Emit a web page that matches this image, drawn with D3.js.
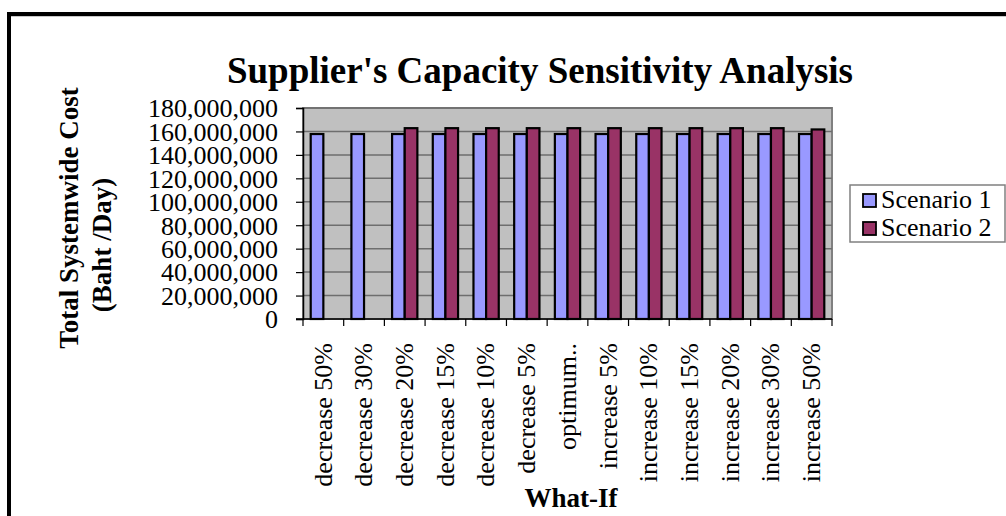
<!DOCTYPE html>
<html>
<head>
<meta charset="utf-8">
<script src="https://cdn.jsdelivr.net/npm/d3@7"></script>
<style>
  html, body { margin: 0; padding: 0; background: #ffffff; }
  svg { display: block; font-family: "Liberation Serif", "Times New Roman", serif; }
</style>
</head>
<body>
<svg id="chart" width="1006" height="516"></svg>
<script>
// What-if scenarios for supplier capacity
const categories = [
  "decrease 50%", "decrease 30%", "decrease 20%", "decrease 15%", "decrease 10%",
  "decrease 5%", "optimum..", "increase 5%", "increase 10%", "increase 15%",
  "increase 20%", "increase 30%", "increase 50%"
];
const seriesNames = ["Scenario 1", "Scenario 2"];
// Total systemwide cost (Baht/Day); null = no feasible solution
const scenario1 = [
  157800000, 157800000, 157800000, 157800000, 157800000, 157800000, 157800000,
  157800000, 157800000, 157800000, 157800000, 157800000, 157800000
];
const scenario2 = [
  null, null, 162800000, 162800000, 162800000, 162800000, 162800000,
  162800000, 162800000, 162800000, 162800000, 162800000, 161700000
];
const yTicks = [0, 20000000, 40000000, 60000000, 80000000, 100000000,
  120000000, 140000000, 160000000, 180000000];
const seriesColors = ["#9999ff", "#993366"];

const svg = d3.select("#chart");

// Outer frame (left and top edges visible)
svg.append("line").attr("x1", 9).attr("y1", 12).attr("x2", 9).attr("y2", 516)
  .attr("stroke", "#000").attr("stroke-width", 4);
svg.append("line").attr("x1", 7).attr("y1", 14).attr("x2", 1006).attr("y2", 14)
  .attr("stroke", "#000").attr("stroke-width", 4);
svg.append("line").attr("x1", 11).attr("y1", 16.5).attr("x2", 1006).attr("y2", 16.5)
  .attr("stroke", "#c8c8c8").attr("stroke-width", 1);

const plot = { left: 303, right: 832, top: 108, bottom: 319 };

const x0 = d3.scaleBand().domain(categories).range([plot.left, plot.right])
  .paddingInner(0).paddingOuter(0);
const x1 = d3.scaleBand().domain(seriesNames).range([0, x0.bandwidth()])
  .paddingInner(0).paddingOuter(0.61);
const y = d3.scaleLinear().domain([0, 180000000]).range([plot.bottom, plot.top]);

// Plot area background
svg.append("rect")
  .attr("x", plot.left).attr("y", plot.top)
  .attr("width", plot.right - plot.left).attr("height", plot.bottom - plot.top)
  .attr("fill", "#c0c0c0").attr("stroke", "#808080").attr("stroke-width", 2);

// Horizontal gridlines
svg.append("g").selectAll("line")
  .data(yTicks.filter(d => d > 0))
  .join("line")
  .attr("x1", plot.left).attr("x2", plot.right)
  .attr("y1", d => y(d)).attr("y2", d => y(d))
  .attr("stroke", "#6e6e6e").attr("stroke-width", 1.5);

// Bars
const groups = svg.append("g").selectAll("g")
  .data(categories.map((c, i) => ({ cat: c, vals: [scenario1[i], scenario2[i]] })))
  .join("g")
  .attr("transform", d => `translate(${x0(d.cat)},0)`);

groups.selectAll("rect")
  .data(d => d.vals.map((v, j) => ({ key: seriesNames[j], v, j })).filter(e => e.v != null))
  .join("rect")
  .attr("x", d => x1(d.key))
  .attr("width", x1.bandwidth())
  .attr("y", d => y(d.v))
  .attr("height", d => y(0) - y(d.v))
  .attr("fill", d => seriesColors[d.j])
  .attr("stroke", "#000").attr("stroke-width", 2.2);

// Y axis
const fmt = d3.format(",");
const yAxis = d3.axisLeft(y).tickValues(yTicks).tickSize(7).tickPadding(18)
  .tickFormat(d => fmt(d));
const gy = svg.append("g").attr("transform", `translate(${plot.left},0)`).call(yAxis);
gy.select(".domain").attr("stroke", "#000").attr("stroke-width", 1.5);
gy.selectAll(".tick line").attr("stroke", "#000").attr("stroke-width", 1.2);
gy.selectAll(".tick text")
  .attr("font-family", "Liberation Serif, serif")
  .attr("font-size", 26).attr("fill", "#000").attr("dy", "0.34em");

// X axis: ticks at band boundaries
const gx = svg.append("g").attr("transform", `translate(0,${plot.bottom})`);
gx.append("line").attr("x1", plot.left - 7).attr("x2", plot.right)
  .attr("y1", 0).attr("y2", 0).attr("stroke", "#000").attr("stroke-width", 1.5);
gx.selectAll("line.tk")
  .data(categories.map(c => x0(c)).concat([plot.right]))
  .join("line").attr("class", "tk")
  .attr("x1", d => d).attr("x2", d => d)
  .attr("y1", 0).attr("y2", 7)
  .attr("stroke", "#000").attr("stroke-width", 1.2);
gx.selectAll("text")
  .data(categories)
  .join("text")
  .attr("transform", d => `translate(${x0(d) + x0.bandwidth() / 2},24) rotate(-90)`)
  .attr("text-anchor", "end")
  .attr("dy", "0.32em")
  .attr("font-size", 26).attr("fill", "#000")
  .text(d => d);

// Titles
svg.append("text")
  .attr("x", 540).attr("y", 83)
  .attr("text-anchor", "middle")
  .attr("font-size", 37).attr("font-weight", "bold")
  .text("Supplier's Capacity Sensitivity Analysis");

svg.append("text")
  .attr("x", 571).attr("y", 507)
  .attr("text-anchor", "middle")
  .attr("font-size", 27).attr("font-weight", "bold")
  .text("What-If");

svg.append("text")
  .attr("transform", "translate(78,218) rotate(-90)")
  .attr("text-anchor", "middle")
  .attr("font-size", 27).attr("font-weight", "bold")
  .text("Total Systemwide Cost");
svg.append("text")
  .attr("transform", "translate(111,245) rotate(-90)")
  .attr("text-anchor", "middle")
  .attr("font-size", 27).attr("font-weight", "bold")
  .text("(Baht /Day)");

// Legend
const legend = svg.append("g");
legend.append("rect")
  .attr("x", 850).attr("y", 185).attr("width", 155).attr("height", 57)
  .attr("fill", "#fff").attr("stroke", "#808080").attr("stroke-width", 1.5);
const li = legend.selectAll("g.item")
  .data(seriesNames)
  .join("g").attr("class", "item")
  .attr("transform", (d, i) => `translate(0,${i * 28})`);
li.append("rect")
  .attr("x", 863).attr("y", 194).attr("width", 13).attr("height", 13)
  .attr("fill", (d, i) => seriesColors[i])
  .attr("stroke", "#000").attr("stroke-width", 1.8);
li.append("text")
  .attr("x", 881).attr("y", 208)
  .attr("font-size", 26).attr("fill", "#000")
  .text(d => d);
</script>
</body>
</html>
